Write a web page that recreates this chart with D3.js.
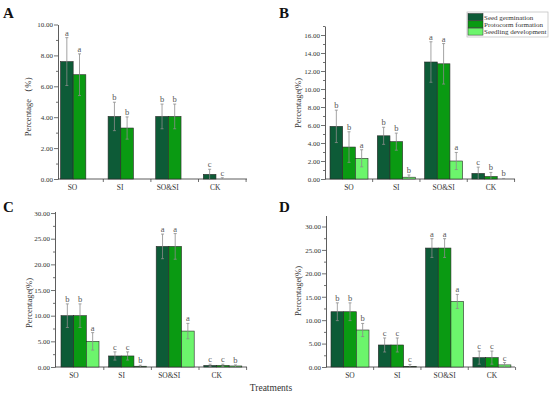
<!DOCTYPE html>
<html>
<head>
<meta charset="utf-8">
<script src="https://cdn.jsdelivr.net/npm/d3@7"></script>
<style>
  body { margin: 0; background: #fff; }
  svg { display: block; }
  text { font-family: "Liberation Serif", "Times New Roman", serif; }
</style>
</head>
<body>
<div id="chart"></div>
<script>
const categories = ["SO", "SI", "SO&SI", "CK"];
const seriesNames = ["Seed germination", "Protocorm formation", "Seedling development"];
const colors = ["#0d5b37", "#0a9a12", "#6cf56c"];

// A: germination + protocorm only
const aValues = [[7.6, 4.05, 4.05, 0.3], [6.75, 3.3, 4.05, 0]];
const aErrors = [[1.55, 0.92, 0.8, 0.33], [1.35, 0.72, 0.8, 0.08]];
const aLetters = [["a", "b", "b", "c"], ["a", "b", "b", "c"]];
const aTicks = [0, 2, 4, 6, 8, 10];

const bValues = [[5.85, 4.8, 13.0, 0.62], [3.55, 4.15, 12.8, 0.28], [2.3, 0.2, 2.0, 0]];
const bErrors = [[1.8, 0.95, 2.25, 0.7], [1.7, 0.95, 2.25, 0.45], [0.95, 0.25, 0.95, 0.06]];
const bLetters = [["b", "b", "a", "c"], ["b", "b", "a", "b"], ["a", "b", "a", "b"]];
const bTicks = [0, 2, 4, 6, 8, 10, 12, 14, 16];

const cValues = [[10.0, 2.15, 23.5, 0.3], [10.0, 2.15, 23.5, 0.3], [5.0, 0.15, 7.0, 0.2]];
const cErrors = [[2.3, 0.8, 2.4, 0.25], [2.3, 0.8, 2.5, 0.25], [1.7, 0.2, 1.5, 0.2]];
const cLetters = [["b", "c", "a", "c"], ["b", "c", "a", "c"], ["a", "b", "a", "b"]];
const cTicks = [0, 5, 10, 15, 20, 25, 30];

const dValues = [[11.8, 4.7, 25.4, 2.0], [11.8, 4.7, 25.4, 2.0], [7.9, 0.15, 14.0, 0.45]];
const dErrors = [[1.9, 1.5, 2.0, 1.4], [1.9, 1.5, 2.0, 1.4], [1.4, 0.4, 1.5, 0.5]];
const dLetters = [["b", "c", "a", "c"], ["b", "c", "a", "c"], ["b", "c", "a", "c"]];
const dTicks = [0, 5, 10, 15, 20, 25, 30];

const width = 550, height = 395;

const svg = d3.select("#chart").append("svg")
  .attr("width", width)
  .attr("height", height);

const panels = [
  { tag: "A", values: aValues, errors: aErrors, letters: aLetters, ticks: aTicks, minor: 1,
    left: 58, right: 247, y0: 179, top: 24.5, max: 10, first: 79.5, step: 47.6, labelShift: -7,
    ylabel: "Percentage （%）", ylx: 31, yly: 104, tagX: 3, tagY: 18 },
  { tag: "B", values: bValues, errors: bErrors, letters: bLetters, ticks: bTicks, minor: 1,
    left: 325, right: 515, y0: 179, top: 26, max: 17, first: 349, step: 47.3, labelShift: 0,
    ylabel: "Percentage(%)", ylx: 301, yly: 103, tagX: 279, tagY: 18, legend: true },
  { tag: "C", values: cValues, errors: cErrors, letters: cLetters, ticks: cTicks, minor: 2.5,
    left: 55, right: 247, y0: 367, top: 211.5, max: 30.3, first: 80, step: 47.6, labelShift: -6,
    ylabel: "Percentage(%)", ylx: 32, yly: 303, tagX: 3, tagY: 212 },
  { tag: "D", values: dValues, errors: dErrors, letters: dLetters, ticks: dTicks, minor: 2.5,
    left: 326, right: 515, y0: 367, top: 215.5, max: 32.35, first: 350, step: 47.3, labelShift: 0,
    ylabel: "Percentage(%)", ylx: 301, yly: 291, tagX: 279, tagY: 212 }
];

panels.forEach((p) => {
  const g = svg.append("g");

  const y = d3.scaleLinear().domain([0, p.max]).range([p.y0, p.top]);
  const x = d3.scalePoint()
    .domain(categories)
    .range([p.first, p.first + p.step * (categories.length - 1)]);
  // three slots per group, even where a panel has only two series
  const xs = d3.scaleBand().domain([0, 1, 2]).range([-19, 19]);

  // minor ticks
  const minorVals = d3.range(0, p.max + 0.001, p.minor).filter((v) => !p.ticks.includes(v));
  g.append("g")
    .attr("transform", `translate(${p.left},0)`)
    .call(d3.axisLeft(y).tickValues(minorVals).tickSize(2).tickSizeOuter(0).tickFormat(""))
    .call((a) => a.select(".domain").remove())
    .call((a) => a.selectAll("line").attr("stroke", "#333").attr("stroke-width", 0.7));

  // major ticks + y axis line
  g.append("g")
    .attr("transform", `translate(${p.left},0)`)
    .call(d3.axisLeft(y).tickValues(p.ticks).tickSize(4).tickSizeOuter(0).tickFormat(d3.format(".2f")))
    .call((a) => a.select(".domain").attr("stroke", "#333").attr("stroke-width", 0.8))
    .call((a) => a.selectAll("line").attr("stroke", "#333").attr("stroke-width", 0.7))
    .call((a) => a.selectAll("text")
      .attr("font-family", "Liberation Serif, serif")
      .attr("font-size", 7)
      .attr("fill", "#333")
      .attr("x", -5));

  // x axis line
  g.append("line")
    .attr("x1", p.left).attr("x2", p.right)
    .attr("y1", p.y0).attr("y2", p.y0)
    .attr("stroke", "#333").attr("stroke-width", 0.8);

  // ticks between groups
  const mids = categories.map((c) => x(c) + p.step / 2);
  g.selectAll(".xtick")
    .data(mids)
    .enter()
    .append("line")
    .attr("x1", (d) => d).attr("x2", (d) => d)
    .attr("y1", p.y0).attr("y2", p.y0 + 3)
    .attr("stroke", "#333").attr("stroke-width", 0.7);

  g.selectAll(".xlab")
    .data(categories)
    .enter()
    .append("text")
    .attr("x", (d) => x(d) + p.labelShift)
    .attr("y", p.y0 + 11)
    .attr("text-anchor", "middle")
    .attr("font-size", 7.5)
    .attr("fill", "#333")
    .text((d) => d);

  // bars
  const bw = xs.bandwidth();
  p.values.forEach((vals, si) => {
    const sg = g.append("g");
    sg.selectAll("rect")
      .data(vals)
      .enter()
      .append("rect")
      .attr("x", (d, i) => x(categories[i]) + xs(si))
      .attr("y", (d) => y(d))
      .attr("width", bw)
      .attr("height", (d) => p.y0 - y(d))
      .attr("fill", colors[si])
      .attr("stroke", "#2a2a2a")
      .attr("stroke-width", 0.6);

    // error bars
    vals.forEach((v, i) => {
      const cx = x(categories[i]) + xs(si) + bw / 2;
      const e = p.errors[si][i];
      const lo = Math.max(0, v - e);
      const hi = v + e;
      sg.append("line")
        .attr("x1", cx).attr("x2", cx)
        .attr("y1", y(lo)).attr("y2", y(hi))
        .attr("stroke", "#8c8c8c").attr("stroke-width", 0.8);
      sg.append("line")
        .attr("x1", cx - 1.5).attr("x2", cx + 1.5)
        .attr("y1", y(hi)).attr("y2", y(hi))
        .attr("stroke", "#8c8c8c").attr("stroke-width", 0.8);
      if (v - e > 0) {
        sg.append("line")
          .attr("x1", cx - 1.5).attr("x2", cx + 1.5)
          .attr("y1", y(lo)).attr("y2", y(lo))
          .attr("stroke", "#8c8c8c").attr("stroke-width", 0.8);
      }
      sg.append("text")
        .attr("x", cx)
        .attr("y", y(hi) - 2)
        .attr("text-anchor", "middle")
        .attr("font-size", 8.5)
        .attr("fill", "#555")
        .text(p.letters[si][i]);
    });
  });

  // y label
  g.append("text")
    .attr("transform", `translate(${p.ylx},${p.yly}) rotate(-90)`)
    .attr("text-anchor", "middle")
    .attr("font-size", 8.5)
    .attr("fill", "#333")
    .text(p.ylabel);

  // panel tag
  g.append("text")
    .attr("x", p.tagX)
    .attr("y", p.tagY)
    .attr("font-size", 15)
    .attr("font-weight", "bold")
    .attr("fill", "#111")
    .text(p.tag);

  if (p.legend) {
    const lg = g.append("g").attr("transform", "translate(467,12)");
    lg.append("rect")
      .attr("x", 0).attr("y", 0)
      .attr("width", 81).attr("height", 25)
      .attr("fill", "#fff")
      .attr("stroke", "#bbb").attr("stroke-width", 0.7);
    seriesNames.forEach((name, i) => {
      lg.append("rect")
        .attr("x", 1).attr("y", 1.5 + i * 7.3)
        .attr("width", 15).attr("height", 7)
        .attr("fill", colors[i])
        .attr("stroke", "#2a2a2a").attr("stroke-width", 0.5);
      lg.append("text")
        .attr("x", 17).attr("y", 7.5 + i * 7.3)
        .attr("font-size", 7)
        .attr("fill", "#333")
        .text(name);
    });
  }
});

svg.append("text")
  .attr("x", 271)
  .attr("y", 391)
  .attr("text-anchor", "middle")
  .attr("font-size", 9.5)
  .attr("fill", "#333")
  .text("Treatments");
</script>
</body>
</html>
